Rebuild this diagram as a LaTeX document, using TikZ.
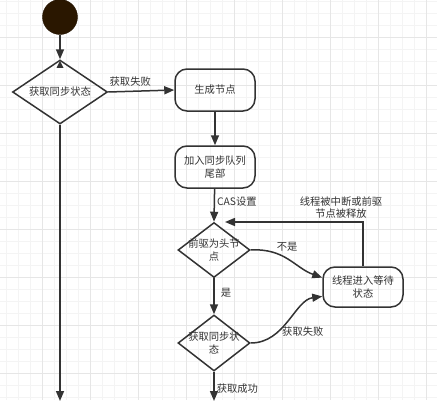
\documentclass[tikz,border=0pt]{standalone}
\usepackage{fontspec}
\setmainfont{Noto Sans CJK SC}
\usetikzlibrary{arrows.meta,shapes.geometric,calc}
\definecolor{linec}{HTML}{333333}
\definecolor{gridminor}{HTML}{F4F4F4}
\definecolor{gridmajor}{HTML}{E6E6E6}
\definecolor{startfill}{HTML}{2A1700}
\tikzset{
  base/.style={line width=1.5pt, draw=linec},
  arr/.style={base, -{Triangle[length=10pt,width=8pt]}},
  box/.style={base, rectangle, rounded corners=12pt, minimum width=80pt, minimum height=42pt, align=center, text=linec, font=\fontsize{10.3pt}{12.5pt}\selectfont},
  dia/.style={base, diamond, inner sep=0pt},
  dlabel/.style={align=center, text=linec, font=\fontsize{10.3pt}{12.5pt}\selectfont},
  lbl/.style={text=linec, font=\fontsize{10.3pt}{12.5pt}\selectfont, inner sep=1pt},
  startc/.style={circle, fill=startfill, draw=startfill!80!black, minimum size=35pt, inner sep=0pt}
}
\begin{document}
\begin{tikzpicture}[x=1pt,y=-1pt]
\useasboundingbox (0,0) rectangle (437,400);
% grid
\foreach \gx in {6,18,...,438} \draw[gridminor, line width=0.6pt] (\gx,0) -- (\gx,400);
\foreach \gy in {1,13,...,400} \draw[gridminor, line width=0.6pt] (0,\gy) -- (437,\gy);
\foreach \gx in {42,90,...,438} \draw[gridmajor, line width=0.8pt] (\gx,0) -- (\gx,400);
\foreach \gy in {37,85,...,400} \draw[gridmajor, line width=0.8pt] (0,\gy) -- (437,\gy);

% nodes
\node[startc] (s) at (60,17) {};
\node[dia, minimum width=95pt, minimum height=64pt, label={[dlabel]center:获取同步状态}] (d1) at (60,92) {};
\node[box] (b1) at (215,90) {生成节点};
\node[box] (b2) at (215,167) {加入同步队列\\尾部};
\node[dia, minimum width=72pt, minimum height=55pt, label={[dlabel]center:前驱为头节\\点}] (d2) at (214,250) {};
\node[dia, minimum width=72pt, minimum height=56pt, label={[dlabel]center:获取同步状\\态}] (d3) at (214,343) {};
\node[box, minimum height=40pt] (b3) at (363,287) {线程进入等待\\状态};

\coordinate (ret) at (225,222);
\coordinate (e1) at (60,401);
\coordinate (e2) at (214,401);

% connectors
\draw[arr] (s) -- (d1.north);
\fill[linec] ($(d1.north)+(0,1.5)$) -- ++(-3.5,7) -- ++(7,0) -- cycle;
\draw[arr] (d1.east) -- node[lbl, above, yshift=3pt, xshift=-11pt] {获取失败} (b1.west);
\draw[arr] (b1) -- (b2);
\draw[arr] (b2) -- node[lbl, right, xshift=1pt, yshift=4pt] {CAS设置} (d2.north);
\draw[arr] (d2.south) -- node[lbl, right, xshift=5pt, yshift=3pt] {是} (d3.north);
\draw[arr] (d2.east) .. controls (285,248) and (295,268) .. node[lbl, pos=0.5, above, xshift=-2pt, yshift=6pt] {不是} (b3.167);
\draw[arr] (d3.east) .. controls (285,343) and (295,300) .. (b3.193);
\node[lbl, anchor=west] (f2) at (281,332) {获取失败};
\draw[arr] (b3.north) |- node[lbl, pos=0.75, above, align=center, yshift=1.5pt, xshift=47pt] {线程被中断或前驱\\节点被释放} (ret);
\draw[arr] (d3.south) -- node[lbl, right, xshift=1pt, yshift=-2pt] {获取成功} (e2);
\draw[arr] (d1.south) -- (e1);
\end{tikzpicture}
\end{document}
